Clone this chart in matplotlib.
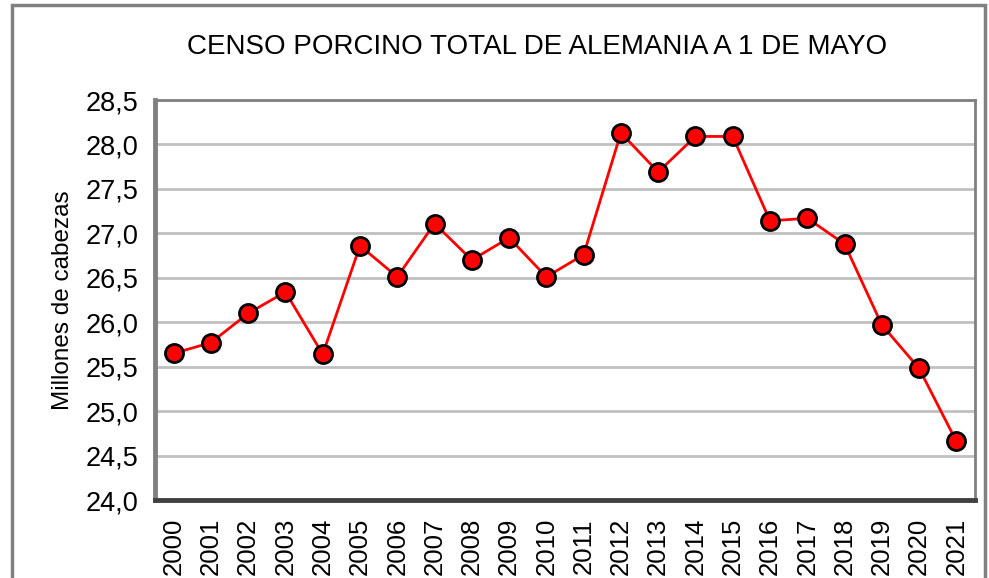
import numpy as np
import matplotlib
matplotlib.use("Agg")
from matplotlib import pyplot as plt
from matplotlib.patches import Rectangle

# Censo porcino, millones de cabezas
years = [str(y) for y in range(2000, 2022)]
censo = [25.65, 25.77, 26.10, 26.34, 25.64, 26.86, 26.51, 27.11, 26.70, 26.95,
         26.51, 26.76, 28.13, 27.69, 28.09, 28.09, 27.14, 27.17, 26.88, 25.97,
         25.48, 24.66]
yticks = [24.0, 24.5, 25.0, 25.5, 26.0, 26.5, 27.0, 27.5, 28.0, 28.5]

plt.rcParams['font.family'] = ['Liberation Sans', 'DejaVu Sans']

fig = plt.figure(figsize=(9.89, 5.78), dpi=100)
ax = fig.add_axes([155/989, 1-500/578, 820/989, 400/578])

x = np.arange(len(years))
ax.plot(x, censo, color="red", lw=2, marker="o", ms=13,
        mfc="red", mec="black", mew=2, zorder=3)

ax.set_xlim(-0.5, len(years)-0.5)
ax.set_ylim(24.0, 28.5)
ax.set_yticks(yticks)
ax.set_yticklabels([f"{v:.1f}".replace(".", ",") for v in yticks], fontsize=19.5)
ax.set_xticks(x)
ax.set_xticklabels(years, rotation=90, fontsize=18.5)
ax.tick_params(axis="x", length=0, pad=13)
ax.tick_params(axis="y", length=0, pad=12)
ax.grid(axis="y", color="#c0c0c0", lw=2)
ax.set_axisbelow(True)

for s in ["top", "right"]:
    ax.spines[s].set_color("#808080")
    ax.spines[s].set_linewidth(2)
ax.spines["left"].set_color("#808080")
ax.spines["left"].set_linewidth(3.5)
ax.spines["bottom"].set_color("#404040")
ax.spines["bottom"].set_linewidth(3.5)

ax.set_ylabel("Millones de cabezas", fontsize=17.5, labelpad=8)

fig.text(537/989, 1-47/578, "CENSO PORCINO TOTAL DE ALEMANIA A 1 DE MAYO",
         ha="center", va="center", fontsize=20)

# marco exterior del grafico
fig.patches.append(Rectangle((12/989, -0.05), (985-12)/989, 1.05-5/578,
                             transform=fig.transFigure, fill=False,
                             edgecolor="#808080", lw=2.5))

plt.savefig("out.png", dpi=100)
